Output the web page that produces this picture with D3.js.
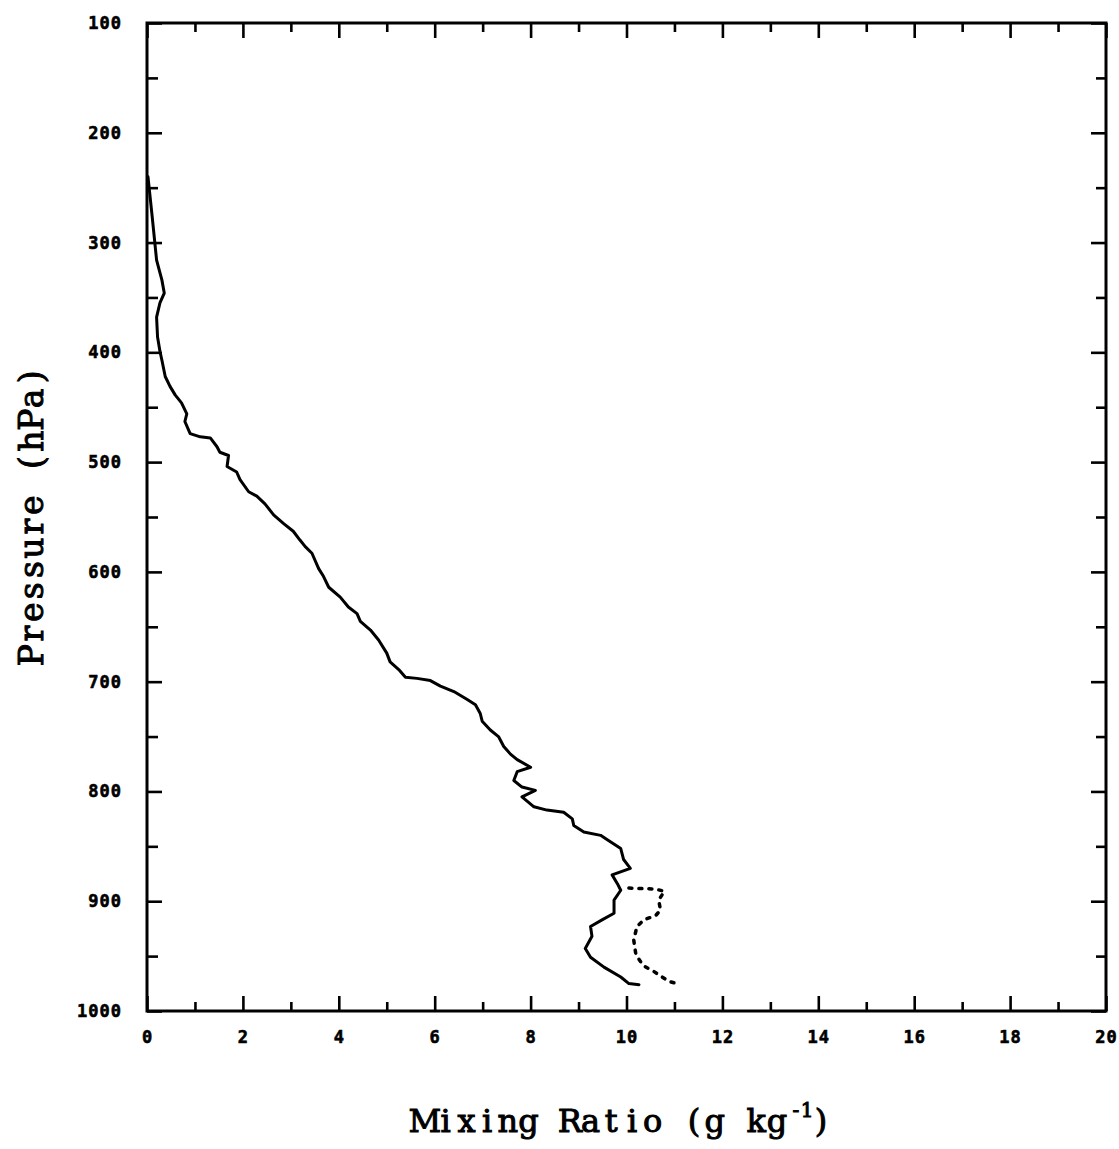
<!DOCTYPE html>
<html>
<head>
<meta charset="utf-8">
<script src="https://cdn.jsdelivr.net/npm/d3@7"></script>
<style>
  html, body { margin: 0; padding: 0; background: #fff; }
  svg { display: block; }
  .tick text { font-family: "DejaVu Sans Mono", monospace; font-weight: bold; font-size: 17px; fill: #000; stroke: #000; stroke-width: 0.6px; letter-spacing: 1px; }
  .domain { display: none; }
  .tick line { stroke: #000; stroke-width: 2.6px; }
  .title { font-family: "DejaVu Serif", serif; fill: #000; stroke: #000; stroke-width: 1px; }
</style>
</head>
<body>
<script>
// Mixing ratio (g/kg) against pressure (hPa), solid sounding profile
const solidMixing = [0.02, 0.10, 0.20, 0.31, 0.36, 0.27, 0.20, 0.22, 0.27, 0.31, 0.38, 0.48, 0.59, 0.72, 0.83, 0.79, 0.90,
  1.11, 1.32, 1.46, 1.52, 1.70, 1.67, 1.87, 1.94, 2.12, 2.29, 2.46, 2.64, 2.85, 3.05, 3.19, 3.30, 3.44, 3.58, 3.68, 3.79,
  4.03, 4.20, 4.38, 4.45, 4.66, 4.83, 5.00, 5.07, 5.25, 5.39, 5.63, 5.91, 6.12, 6.40, 6.67, 6.85, 6.95, 6.99, 7.16, 7.33,
  7.44, 7.58, 7.72, 8.00, 7.72, 7.65, 7.82, 8.10, 7.82, 8.07, 8.34, 8.69, 8.87, 8.90, 9.11, 9.46, 9.60, 9.88, 9.94, 10.08,
  9.70, 9.81, 9.88, 9.74, 9.74, 9.49, 9.25, 9.28, 9.14, 9.25, 9.53, 9.88, 10.05, 10.26];
const solidPressure = [240, 273, 316, 334, 346, 355, 368, 386, 399, 407, 422, 431, 439, 446, 456, 463, 474,
  477, 478, 486, 491, 494, 504, 509, 516, 527, 531, 538, 548, 556, 563, 571, 577, 583, 597, 604, 614,
  623, 632, 638, 645, 653, 662, 674, 682, 689, 696, 697, 699, 704, 709, 716, 721, 729, 736, 744, 750,
  759, 766, 771, 778, 782, 790, 796, 799, 805, 814, 817, 819, 825, 831, 837, 840, 844, 852, 862, 870,
  876, 884, 890, 899, 911, 917, 923, 932, 943, 951, 960, 969, 975, 976];

// Dotted profile in the lowest layers
const dottedMixing = [10.05, 10.61, 10.79, 10.67, 10.71, 10.61, 10.36, 10.22, 10.15, 10.19, 10.26, 10.36, 10.57, 10.88, 11.13];
const dottedPressure = [888, 889, 891, 899, 908, 913, 917, 923, 935, 947, 953, 959, 964, 973, 976];

const xMajorTicks = [0, 2, 4, 6, 8, 10, 12, 14, 16, 18, 20];
const xMinorTicks = [1, 3, 5, 7, 9, 11, 13, 15, 17, 19];
const yMajorTicks = [100, 200, 300, 400, 500, 600, 700, 800, 900, 1000];
const yMinorTicks = [150, 250, 350, 450, 550, 650, 750, 850, 950];

const xTitle = "Mixing Ratio (g kg";
const xTitleExponent = "-1";
const yTitle = "Pressure (hPa)";

const W = 1119, H = 1149;
const plotLeft = 147, plotRight = 1106, plotTop = 23, plotBottom = 1011;

const svg = d3.select("body").append("svg").attr("width", W).attr("height", H);

const x = d3.scaleLinear().domain([0, 20]).range([plotLeft, plotRight]);
const y = d3.scaleLinear().domain([100, 1000]).range([plotTop, plotBottom]);

// frame
svg.append("rect")
  .attr("x", plotLeft).attr("y", plotTop)
  .attr("width", plotRight - plotLeft).attr("height", plotBottom - plotTop)
  .attr("fill", "none").attr("stroke", "#000").attr("stroke-width", 3);

// bottom axis: labelled majors plus shorter minors, ticks pointing inward
svg.append("g").attr("transform", `translate(0,${plotBottom})`)
  .call(d3.axisBottom(x).tickValues(xMajorTicks).tickFormat(d3.format("d")).tickSizeInner(-15).tickSizeOuter(0).tickPadding(20));
svg.append("g").attr("transform", `translate(0,${plotBottom})`)
  .call(d3.axisBottom(x).tickValues(xMinorTicks).tickFormat("").tickSizeInner(-9).tickSizeOuter(0));

// top axis ticks (no labels)
svg.append("g").attr("transform", `translate(0,${plotTop})`)
  .call(d3.axisTop(x).tickValues(xMajorTicks).tickFormat("").tickSizeInner(-15).tickSizeOuter(0));
svg.append("g").attr("transform", `translate(0,${plotTop})`)
  .call(d3.axisTop(x).tickValues(xMinorTicks).tickFormat("").tickSizeInner(-9).tickSizeOuter(0));

// left axis with pressure labels
svg.append("g").attr("transform", `translate(${plotLeft},0)`)
  .call(d3.axisLeft(y).tickValues(yMajorTicks).tickFormat(d3.format("d")).tickSizeInner(-15).tickSizeOuter(0).tickPadding(25));
svg.append("g").attr("transform", `translate(${plotLeft},0)`)
  .call(d3.axisLeft(y).tickValues(yMinorTicks).tickFormat("").tickSizeInner(-11).tickSizeOuter(0));

// right axis ticks
svg.append("g").attr("transform", `translate(${plotRight},0)`)
  .call(d3.axisRight(y).tickValues(yMajorTicks).tickFormat("").tickSizeInner(-15).tickSizeOuter(0));
svg.append("g").attr("transform", `translate(${plotRight},0)`)
  .call(d3.axisRight(y).tickValues(yMinorTicks).tickFormat("").tickSizeInner(-10).tickSizeOuter(0));

// profiles
const line = d3.line().x(d => x(d[0])).y(d => y(d[1]));

svg.append("path")
  .datum(d3.zip(solidMixing, solidPressure))
  .attr("d", line)
  .attr("fill", "none").attr("stroke", "#000").attr("stroke-width", 3)
  .attr("stroke-linejoin", "round").attr("stroke-linecap", "round");

svg.append("path")
  .datum(d3.zip(dottedMixing, dottedPressure))
  .attr("d", line)
  .attr("fill", "none").attr("stroke", "#000").attr("stroke-width", 3.5)
  .attr("stroke-dasharray", "3,7")
  .attr("stroke-linecap", "round");

// axis titles, set on a fixed character pitch like a typewriter
const cells = (n, start, pitch) => d3.range(n).map(i => (start + i * pitch).toFixed(1)).join(" ");

const xt = svg.append("text").attr("class", "title").attr("font-size", 32).attr("text-anchor", "middle");
xt.append("tspan").attr("x", cells(xTitle.length, 425, 20.7)).attr("y", 1132).text(xTitle);
xt.append("tspan").attr("x", "796 807").attr("y", 1117).attr("font-size", 20).text(xTitleExponent);
xt.append("tspan").attr("x", 821).attr("y", 1132).text(")");

svg.append("g").attr("transform", "translate(43,516) rotate(-90)")
  .append("text").attr("class", "title").attr("font-size", 33).attr("text-anchor", "middle")
  .attr("x", cells(yTitle.length, -6.5 * 21.4, 21.4)).attr("y", 0)
  .text(yTitle);
</script>
</body>
</html>
